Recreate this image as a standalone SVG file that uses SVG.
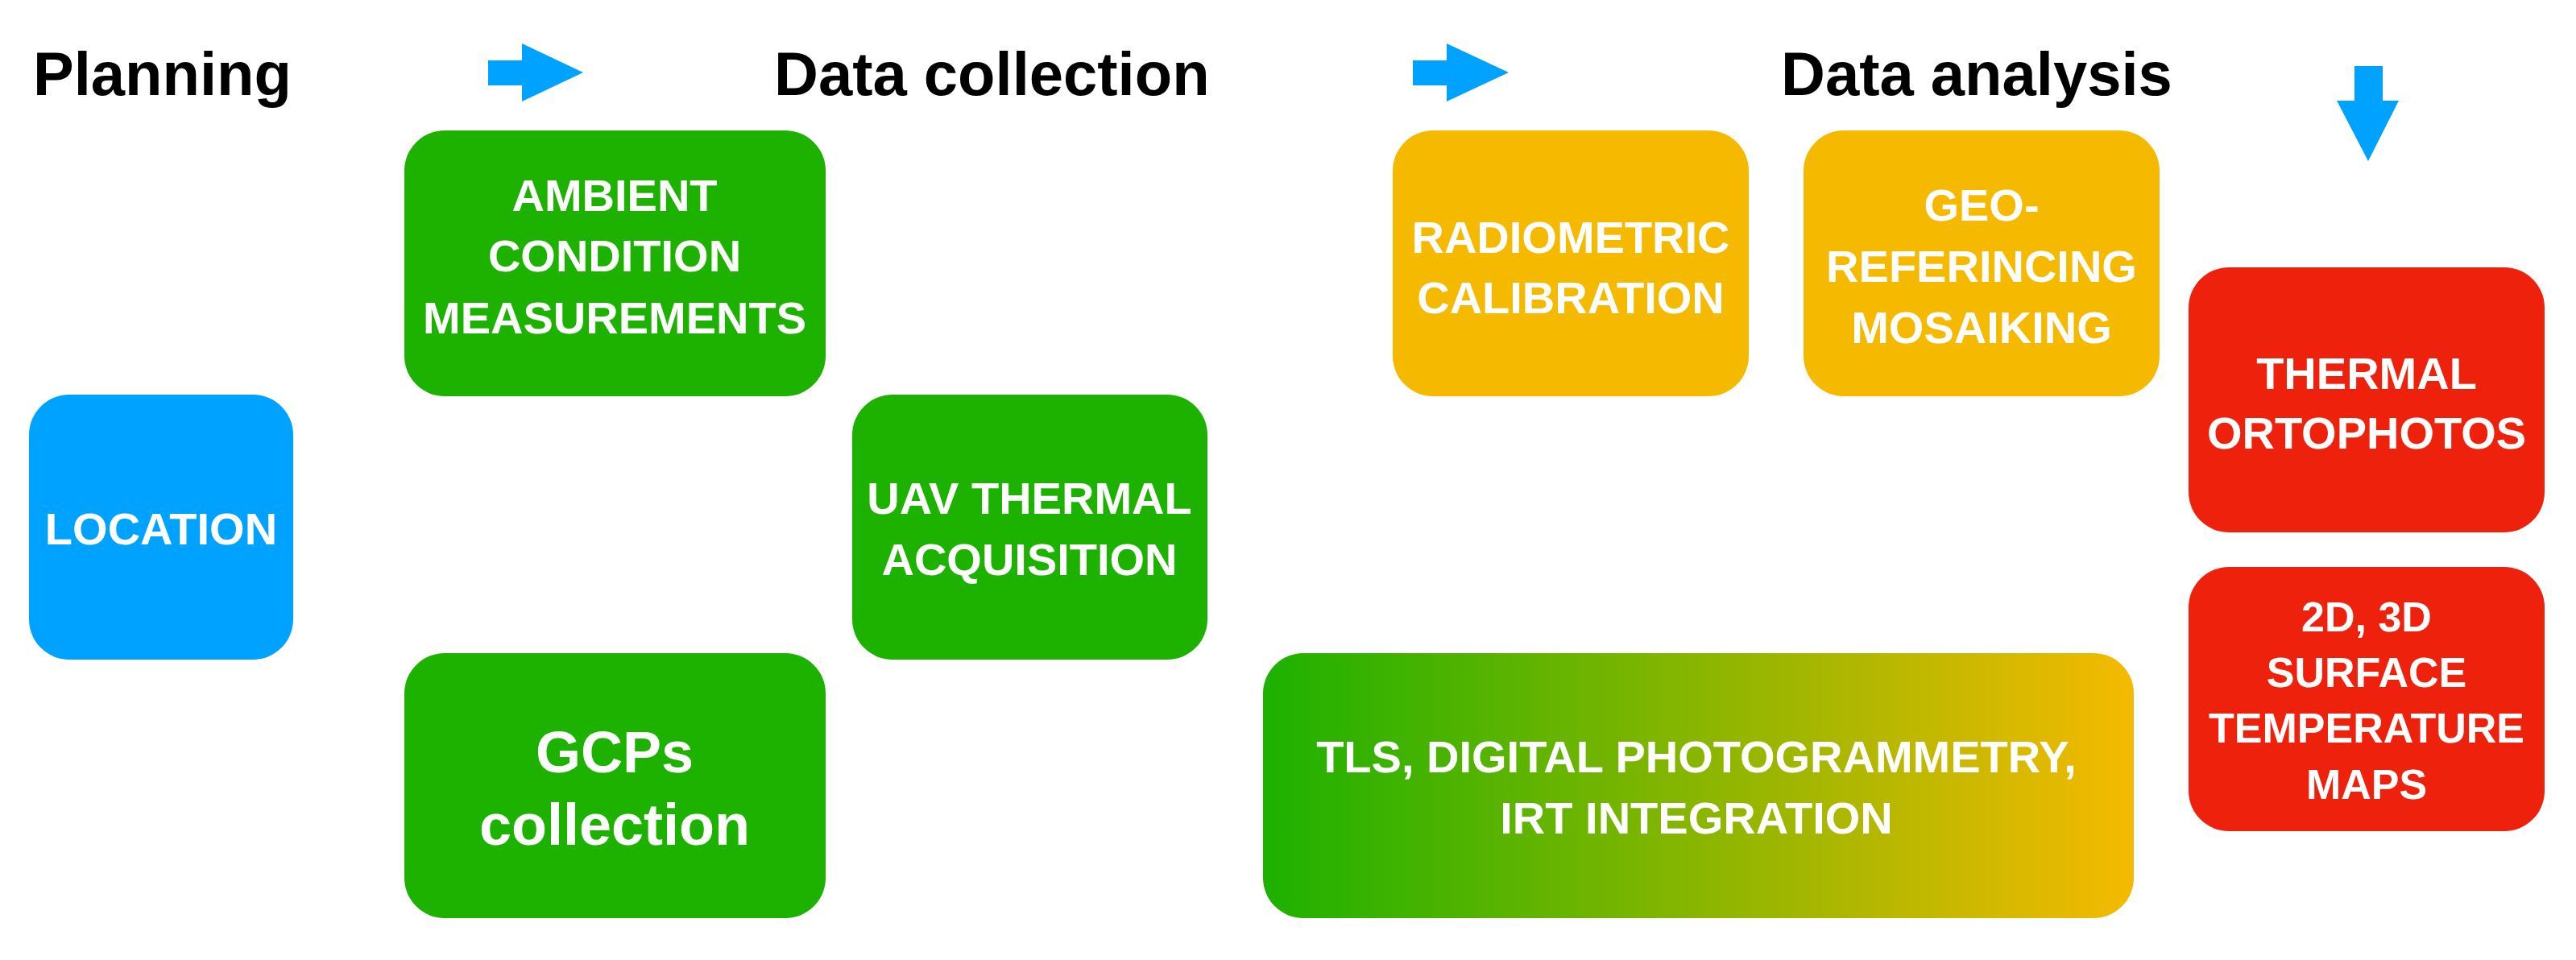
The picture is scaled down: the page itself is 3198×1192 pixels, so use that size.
<svg xmlns="http://www.w3.org/2000/svg" width="3198" height="1192" viewBox="0 0 3198 1192">
<style>
.h{font-family:"Liberation Sans",Arial,sans-serif;font-weight:bold;font-size:76px;fill:#000}
.t{font-family:"Liberation Sans",Arial,sans-serif;font-weight:bold;font-size:56px;fill:#fff;text-anchor:middle}
.g{fill:#1DB100}.b{fill:#00A2FF}.o{fill:#F5BA00}.r{fill:#EE220C}
</style>
<defs>
<linearGradient id="gr" x1="0" y1="0" x2="1" y2="0">
<stop offset="0" stop-color="#1DB100"/><stop offset="1" stop-color="#F5BA00"/>
</linearGradient>
</defs>
<g id="headings">
<text class="h" x="41" y="118">Planning</text>
<text class="h" x="961" y="118">Data collection</text>
<text class="h" x="2211" y="118">Data analysis</text>
</g>
<g id="connectors" fill="#00A2FF">
<polygon points="606,75 648,75 648,54 724,90 648,126 648,106 606,106"/>
<polygon points="1754,75 1796,75 1796,54 1873,90 1796,126 1796,106 1754,106"/>
<polygon points="2923,82 2958,82 2958,125 2978,125 2940,200 2901,125 2923,125"/>
</g>
<g id="location"><rect class="b" x="36" y="490" width="328" height="329" rx="50"/><text class="t" x="200" y="676">LOCATION</text></g>
<g id="ambient"><rect class="g" x="502" y="162" width="523" height="330" rx="50"/>
<text class="t" x="763" y="262">AMBIENT</text><text class="t" x="763" y="337">CONDITION</text><text class="t" x="763" y="414">MEASUREMENTS</text></g>
<g id="gcps"><rect class="g" x="502" y="811" width="523" height="329" rx="50"/>
<text class="t" x="763" y="959" style="font-size:72px">GCPs</text><text class="t" x="763" y="1049" style="font-size:72px">collection</text></g>
<g id="uav"><rect class="g" x="1058" y="490" width="441" height="329" rx="50"/>
<text class="t" x="1278" y="638">UAV THERMAL</text><text class="t" x="1278" y="714">ACQUISITION</text></g>
<g id="radiometric"><rect class="o" x="1729" y="162" width="442" height="330" rx="50"/>
<text class="t" x="1950" y="314">RADIOMETRIC</text><text class="t" x="1950" y="389">CALIBRATION</text></g>
<g id="geo"><rect class="o" x="2239" y="162" width="442" height="330" rx="50"/>
<text class="t" x="2460" y="274">GEO-</text><text class="t" x="2460" y="350">REFERINCING</text><text class="t" x="2460" y="426">MOSAIKING</text></g>
<g id="tls"><rect fill="url(#gr)" x="1568" y="811" width="1081" height="329" rx="50"/>
<text class="t" x="2106" y="959">TLS, DIGITAL PHOTOGRAMMETRY,</text><text class="t" x="2106" y="1035">IRT INTEGRATION</text></g>
<g id="ortho"><rect class="r" x="2717" y="332" width="442" height="329" rx="50"/>
<text class="t" x="2938" y="483">THERMAL</text><text class="t" x="2938" y="557">ORTOPHOTOS</text></g>
<g id="maps"><rect class="r" x="2717" y="704" width="442" height="328" rx="50"/>
<text class="t" x="2938" y="784" style="font-size:52px">2D, 3D</text><text class="t" x="2938" y="853" style="font-size:52px">SURFACE</text><text class="t" x="2938" y="922" style="font-size:52px">TEMPERATURE</text><text class="t" x="2938" y="992" style="font-size:52px">MAPS</text></g>
</svg>
